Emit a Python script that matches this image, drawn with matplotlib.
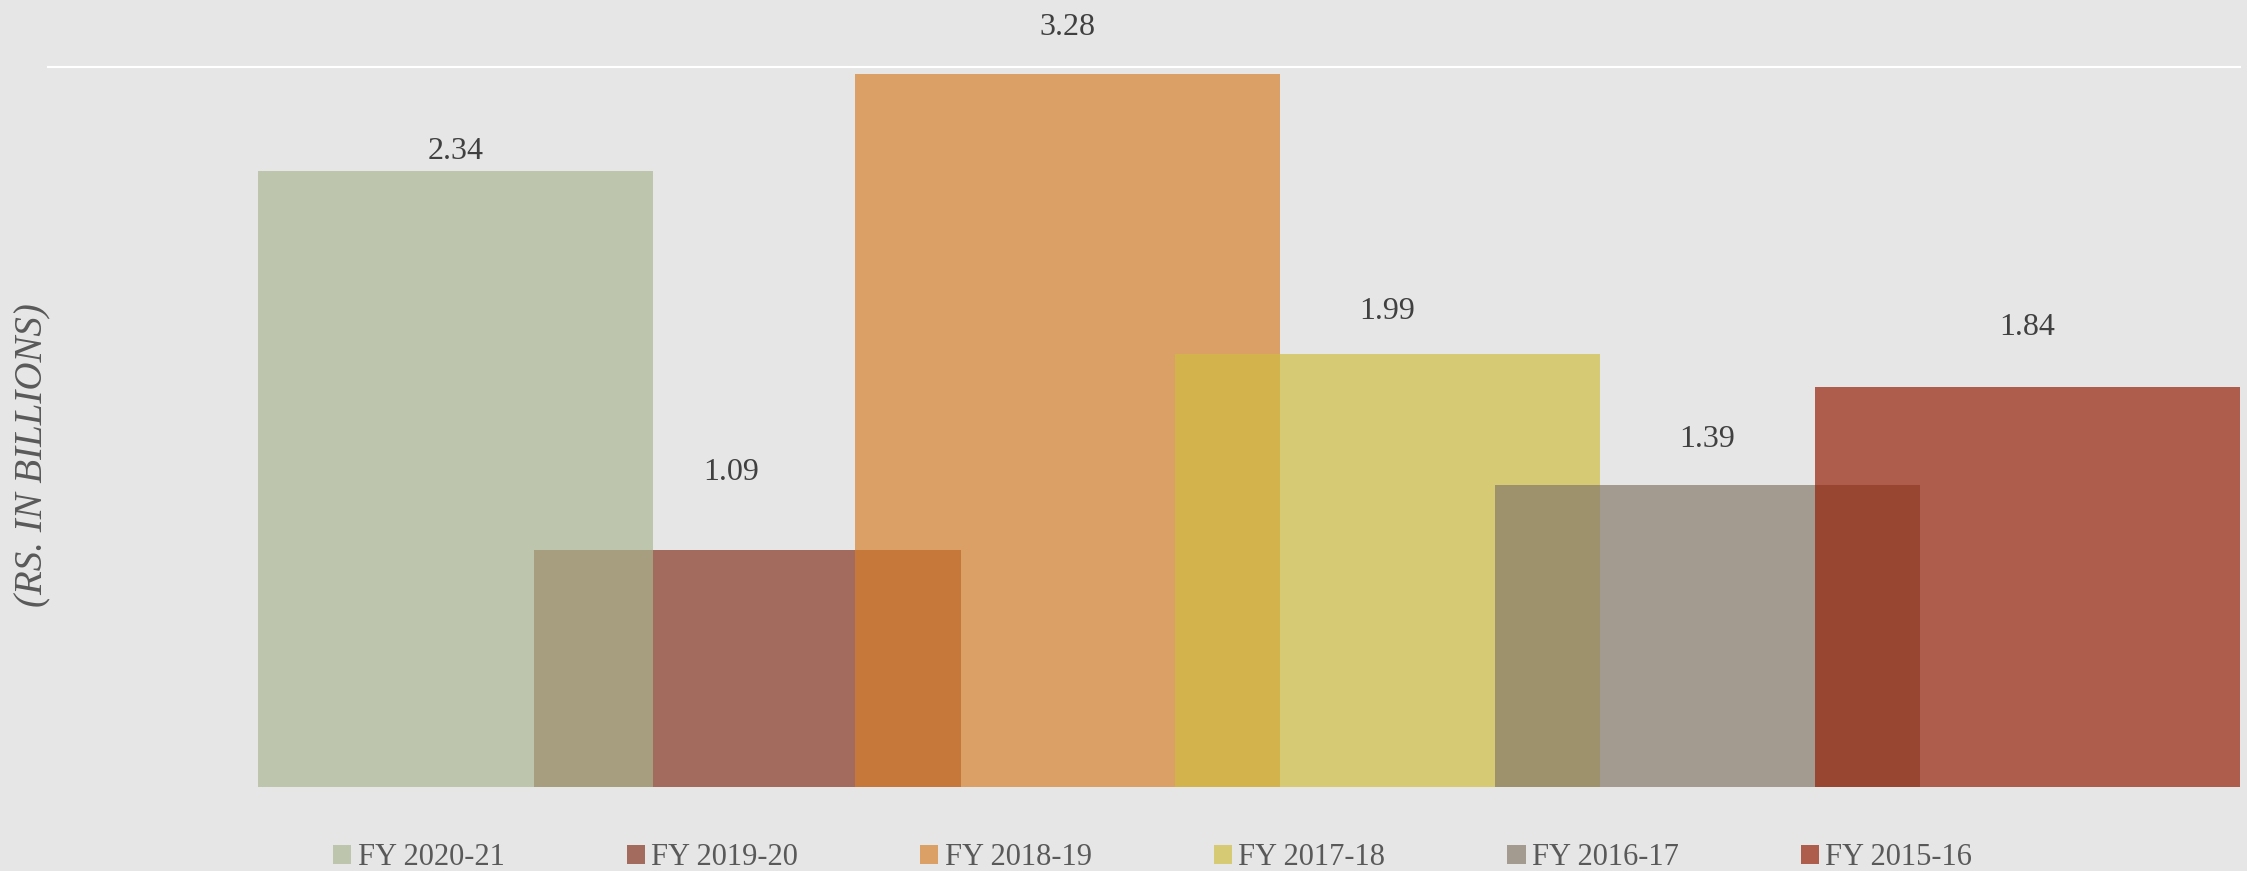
import numpy as np
import matplotlib.pyplot as plt

years = ['FY 2020-21', 'FY 2019-20', 'FY 2018-19', 'FY 2017-18', 'FY 2016-17', 'FY 2015-16']
values = [2.34, 1.09, 3.28, 1.99, 1.39, 1.84]    # printed on top of the bars
heights = [2.83, 1.09, 3.28, 1.99, 1.39, 1.84]   # bar heights as drawn (first bar is taller than its label)

colors = ['#AAB792', '#83311D', '#D77F2A', '#D0BE40', '#847868', '#941D04']
bg = '#E6E6E6'
alpha = 0.68

plt.rcParams['font.family'] = ['Liberation Serif', 'DejaVu Serif']

fig = plt.figure(figsize=(22.47, 8.71), dpi=100, facecolor=bg)
ax = fig.add_axes([0.0214, 0.0964, 0.9755, 0.8266])
ax.set_facecolor(bg)

x = np.arange(len(years))
widths = [1.234, 1.334, 1.33, 1.33, 1.33, 1.33]
shift = [0.0875, 0, 0, 0, 0, 0]
label_pad = [4, 45, 23, 20, 22, 32]     # points above bar top
label_dx = [0, -12, 0, 0, 0, 0]

# second bar sits underneath the first one
order = [1, 0, 2, 3, 4, 5]
handles = [None] * len(years)
for z, i in enumerate(order):
    b = ax.bar(x[i] + shift[i], heights[i], width=widths[i], color=colors[i],
               alpha=alpha, label=years[i], zorder=z + 2, linewidth=0)
    handles[i] = b
    ax.annotate(f'{values[i]:.2f}', (x[i] + shift[i], heights[i]),
                xytext=(label_dx[i], label_pad[i]), textcoords='offset points',
                ha='center', va='bottom', fontsize=23, color='#404040',
                annotation_clip=False)

ax.set_xlim(-1.186, 5.664)
ax.set_ylim(0, 3.31)
ax.set_xticks([])
ax.set_yticks([])
for s in ['left', 'right', 'bottom']:
    ax.spines[s].set_visible(False)
ax.spines['top'].set_color('white')
ax.spines['top'].set_linewidth(1.5)

fig.text(0.0145, 0.478, '(RS. IN BILLIONS)', rotation=90, ha='center', va='center',
         fontsize=28, style='italic', color='#595959')

fig.legend(handles, years, loc='center', bbox_to_anchor=(0.513, 0.015), ncol=6,
           frameon=False, fontsize=22, labelcolor='#595959',
           handlelength=0.6, handleheight=0.6, handletextpad=0.2, columnspacing=4.0)

fig.savefig('out.png', dpi=100, facecolor=bg)
